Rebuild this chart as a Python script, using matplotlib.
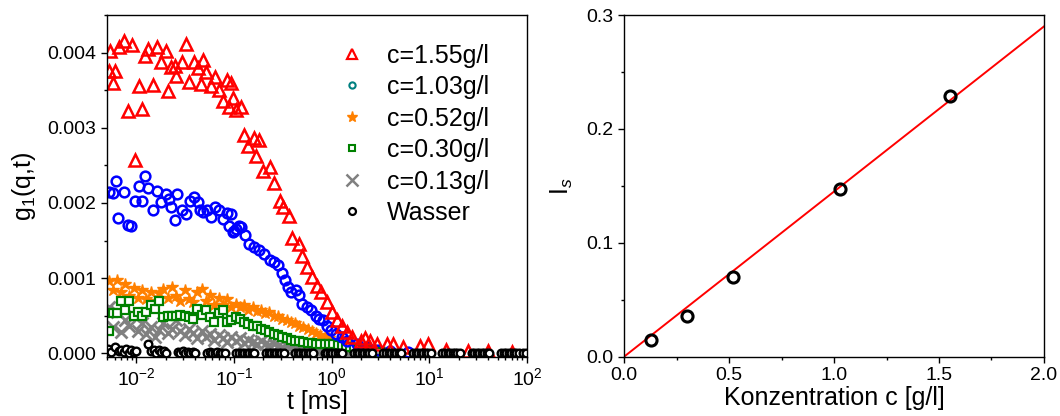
import matplotlib
matplotlib.use('Agg')
import matplotlib.pyplot as plt
from matplotlib.lines import Line2D
from matplotlib.ticker import MultipleLocator, LogLocator, FormatStrFormatter

plt.rcParams.update({
    'font.family': ['Liberation Sans', 'DejaVu Sans'],
    'mathtext.fontset': 'custom',
    'mathtext.rm': 'Liberation Sans',
    'mathtext.it': 'Liberation Sans:italic',
    'font.size': 14,
    'axes.linewidth': 1.0,
})

# ── Data: g1(q,t) (values in units of 1e-3) ──────────────────────────────────
red_t = [0.0052, 0.0054, 0.0058, 0.0061, 0.0067, 0.0074, 0.0082, 0.0091, 0.0098, 0.0107,
         0.0114, 0.0124, 0.0132, 0.0148, 0.0163, 0.0180, 0.0199, 0.0211, 0.0228, 0.0246,
         0.0256, 0.0295, 0.0324, 0.0350, 0.0385, 0.0426, 0.0461, 0.0486, 0.0518, 0.0582,
         0.0644, 0.0708, 0.0767, 0.0842, 0.0882, 0.0931, 0.0969, 0.105, 0.118, 0.127,
         0.140, 0.159, 0.168, 0.181, 0.196, 0.235, 0.258, 0.297, 0.314, 0.367,
         0.397, 0.464, 0.502, 0.565, 0.636, 0.715, 0.773, 0.904, 1.02, 1.14,
         1.29, 1.45, 1.62, 1.98, 2.22, 2.50, 2.93, 3.70, 4.29, 5.43,
         8.09, 9.77, 15.0, 25.0, 40.0, 70.0]
red_g = [3.76, 4.02, 3.60, 3.75, 4.07, 4.16, 3.22, 4.10, 2.57, 3.55,
         3.25, 3.96, 4.05, 3.57, 4.07, 3.88, 4.02, 3.49, 3.81, 3.82,
         3.69, 3.88, 4.12, 3.61, 3.88, 3.80, 3.58, 3.90, 3.74, 3.55,
         3.68, 3.50, 3.36, 3.63, 3.27, 3.60, 3.40, 3.24, 3.28, 2.90,
         2.76, 2.86, 2.63, 2.84, 2.43, 2.48, 2.27, 2.03, 1.94, 1.83,
         1.54, 1.46, 1.30, 1.15, 1.01, 0.90, 0.81, 0.68, 0.55, 0.44,
         0.37, 0.28, 0.22, 0.17, 0.20, 0.17, 0.13, 0.13, 0.12, 0.09,
         0.10, 0.12, 0.04, 0.03, 0.03, 0.02]

blue_t = [0.0053, 0.0057, 0.0062, 0.0065, 0.0074, 0.0082, 0.0089, 0.0096, 0.0106, 0.0115,
          0.0124, 0.0132, 0.0148, 0.0163, 0.0180, 0.0199, 0.0215, 0.0228, 0.0246, 0.0260,
          0.0295, 0.0324, 0.0355, 0.0393, 0.0426, 0.0450, 0.0486, 0.0527, 0.0582, 0.0644,
          0.0708, 0.0767, 0.0842, 0.0895, 0.0931, 0.0969, 0.101, 0.106, 0.113, 0.118,
          0.130, 0.143, 0.161, 0.181, 0.204, 0.235, 0.254, 0.284, 0.307, 0.331,
          0.358, 0.387, 0.428, 0.464, 0.501, 0.555, 0.619, 0.685, 0.740, 0.820,
          0.901, 0.990, 1.12, 1.28, 1.44, 1.80, 2.30, 3.00, 4.00, 6.00]
blue_g = [2.14, 2.13, 2.29, 1.80, 2.14, 1.71, 1.69, 2.03, 2.23, 2.03,
          2.36, 2.20, 1.91, 2.16, 2.01, 2.12, 2.05, 1.94, 1.78, 2.12,
          1.90, 1.85, 2.03, 2.08, 2.01, 1.91, 1.88, 1.91, 1.81, 1.95,
          1.90, 1.79, 1.86, 1.69, 1.85, 1.61, 1.63, 1.66, 1.70, 1.68,
          1.57, 1.46, 1.42, 1.37, 1.32, 1.24, 1.21, 1.17, 1.07, 0.97,
          0.88, 0.81, 0.84, 0.78, 0.66, 0.61, 0.58, 0.50, 0.46, 0.44,
          0.36, 0.31, 0.26, 0.22, 0.17, 0.12, 0.08, 0.05, 0.03, 0.02]

# common lag times for the three low concentrations
t_low = [0.0052, 0.0057, 0.0063, 0.0070, 0.0077, 0.0085, 0.0094, 0.0104, 0.0115, 0.0127,
         0.0140, 0.0155, 0.0171, 0.0189, 0.0209, 0.0231, 0.0255, 0.0282, 0.0312, 0.0345,
         0.0381, 0.0421, 0.0465, 0.0514, 0.0568, 0.0628, 0.0694, 0.0767, 0.0848, 0.0937,
         0.104, 0.115, 0.127, 0.140, 0.155, 0.171, 0.189, 0.209, 0.231, 0.255,
         0.282, 0.312, 0.345, 0.381, 0.421, 0.465, 0.514, 0.568, 0.628, 0.694,
         0.767, 0.848, 0.937, 1.04, 1.15, 1.27, 1.40, 1.55, 1.71, 1.89,
         2.09, 2.31, 2.55, 2.82, 3.12]
orange_g = [0.96, 0.84, 0.97, 0.82, 0.92, 0.76, 0.87, 0.74, 0.84, 0.72,
            0.82, 0.70, 0.80, 0.86, 0.74, 0.88, 0.76, 0.70, 0.84, 0.72,
            0.68, 0.82, 0.86, 0.70, 0.78, 0.64, 0.74, 0.64, 0.72, 0.62,
            0.66, 0.62, 0.64, 0.58, 0.62, 0.56, 0.58, 0.53, 0.55, 0.50,
            0.49, 0.46, 0.45, 0.42, 0.40, 0.37, 0.35, 0.32, 0.30, 0.27,
            0.25, 0.22, 0.20, 0.18, 0.16, 0.14, 0.12, 0.11, 0.09, 0.08,
            0.07, 0.06, 0.05, 0.04, 0.03]
green_g = [0.30, 0.53, 0.53, 0.70, 0.57, 0.70, 0.50, 0.55, 0.50, 0.55,
           0.64, 0.59, 0.70, 0.48, 0.50, 0.50, 0.50, 0.51, 0.50, 0.48,
           0.46, 0.59, 0.51, 0.57, 0.48, 0.42, 0.53, 0.57, 0.42, 0.44,
           0.48, 0.46, 0.42, 0.39, 0.37, 0.37, 0.33, 0.31, 0.28, 0.26,
           0.24, 0.22, 0.20, 0.18, 0.17, 0.16, 0.15, 0.14, 0.14, 0.13,
           0.13, 0.13, 0.12, 0.12, 0.11, 0.10, 0.09, 0.08, 0.07, 0.06,
           0.05, 0.04, 0.03, 0.03, 0.02]
grey_g = [0.62, 0.35, 0.55, 0.28, 0.45, 0.36, 0.50, 0.30, 0.40, 0.26,
          0.35, 0.22, 0.31, 0.40, 0.27, 0.33, 0.45, 0.30, 0.24, 0.33,
          0.27, 0.20, 0.30, 0.22, 0.26, 0.18, 0.24, 0.20, 0.15, 0.22,
          0.17, 0.20, 0.14, 0.18, 0.15, 0.12, 0.16, 0.13, 0.11, 0.13,
          0.10, 0.09, 0.10, 0.08, 0.07, 0.08, 0.06, 0.06, 0.05, 0.05,
          0.04, 0.04, 0.03, 0.03, 0.03, 0.02, 0.02, 0.02, 0.02, 0.01,
          0.01, 0.01, 0.01, 0.01, 0.00]

# water: full correlator range, channels come in groups of eight
water_t = [0.0051, 0.0055, 0.0060,
           0.0066, 0.0070, 0.0075, 0.0079, 0.0084, 0.0089, 0.0094, 0.0100,
           0.0133, 0.0142, 0.0150, 0.0160, 0.0169, 0.0180, 0.0190, 0.0202,
           0.0265, 0.0282, 0.0299, 0.0318, 0.0337, 0.0358, 0.0379, 0.0403,
           0.053, 0.0564, 0.0599, 0.0636, 0.0673, 0.0716, 0.0758, 0.0806,
           0.106, 0.113, 0.120, 0.127, 0.135, 0.143, 0.152, 0.161,
           0.212, 0.226, 0.240, 0.254, 0.269, 0.286, 0.303, 0.322,
           0.424, 0.452, 0.479, 0.509, 0.538, 0.572, 0.606, 0.644,
           0.849, 0.904, 0.959, 1.02, 1.08, 1.15, 1.21, 1.29,
           1.70, 1.81, 1.92, 2.04, 2.16, 2.30, 2.43, 2.58,
           3.39, 3.61, 3.83, 4.07, 4.31, 4.58, 4.85, 5.15,
           6.79, 7.23, 7.67, 8.15, 8.62, 9.17, 9.71, 10.3,
           13.6, 14.5, 15.4, 16.3, 17.3, 18.4, 19.4, 20.7,
           27.2, 29.0, 30.7, 32.6, 34.5, 36.7, 38.9, 41.3,
           54.3, 57.8, 61.4, 65.2, 69.0, 73.3, 77.6, 82.5,
           92.0, 98.0]
water_g = [0.06, 0.02, 0.08,
           0.03, 0.05, 0.02, 0.06, 0.01, 0.04, 0.02, 0.03,
           0.12, 0.03, 0.05, 0.01, 0.04, 0.02, 0.03, 0.01,
           0.02, 0.01, 0.03, 0.00, 0.02, 0.01, 0.02, 0.00,
           0.01, 0.02, 0.00, 0.01, 0.02, 0.00, 0.01, 0.00,
           0.01, 0.00, 0.01, 0.00, 0.01, 0.00, 0.00, 0.01,
           0.00, 0.01, 0.00, 0.00, 0.01, 0.00, 0.00, 0.00,
           0.01, 0.00, 0.00, 0.01, 0.00, 0.00, 0.00, 0.00,
           0.00, 0.00, 0.01, 0.00, 0.00, 0.00, 0.00, 0.00,
           0.00, 0.00, 0.00, 0.00, 0.01, 0.00, 0.00, 0.00,
           0.00, 0.00, 0.00, 0.00, 0.00, 0.00, 0.00, 0.00,
           0.00, 0.00, 0.00, 0.00, 0.00, 0.00, 0.00, 0.00,
           0.00, 0.00, 0.00, 0.00, 0.00, 0.00, 0.00, 0.00,
           0.00, 0.00, 0.00, 0.00, 0.00, 0.00, 0.00, 0.00,
           0.00, 0.00, 0.00, 0.00, 0.00, 0.00, 0.00, 0.00,
           0.00, 0.00]

legend_labels = ['c=1.55g/l', 'c=1.03g/l', 'c=0.52g/l', 'c=0.30g/l', 'c=0.13g/l', 'Wasser']

# ── Data: scattered intensity vs concentration ──────────────────────────────
conc = [0.13, 0.30, 0.52, 1.03, 1.55]
i_s = [0.015, 0.036, 0.070, 0.147, 0.229]
fit_c = [0.0, 2.0]
fit_i = [0.0, 0.29]

S = 1e-3
def sc(v):
    return [x * S for x in v]

fig = plt.figure(figsize=(10.6, 4.16), dpi=100)
ax1 = fig.add_axes([0.1009, 0.1425, 0.3962, 0.8214])
ax2 = fig.add_axes([0.5887, 0.1425, 0.3962, 0.8214])

# left panel
ax1.plot(t_low, sc(orange_g), ls='none', marker='*', ms=9, color='#ff8000', mec='#ff8000')
ax1.plot(t_low, sc(grey_g), ls='none', marker='x', ms=9, mew=2.0, color='#808080')
ax1.plot(t_low, sc(green_g), ls='none', marker='s', ms=6, mew=1.6, mfc='white', color='#008000')
ax1.plot(blue_t, sc(blue_g), ls='none', marker='o', ms=7, mew=1.8, mfc='none', color='#0000ff')
ax1.plot(red_t, sc(red_g), ls='none', marker='^', ms=8.5, mew=1.8, mfc='none', color='#ff0000')
ax1.plot(water_t, sc(water_g), ls='none', marker='o', ms=5.5, mew=1.7, mfc='white', color='black')

ax1.set_xscale('log')
ax1.set_xlim(0.005, 100)
ax1.set_ylim(-0.000045, 0.0045)
ax1.yaxis.set_major_locator(MultipleLocator(0.001))
ax1.yaxis.set_minor_locator(MultipleLocator(0.0005))
ax1.yaxis.set_major_formatter(FormatStrFormatter('%.3f'))
ax1.xaxis.set_minor_locator(LogLocator(base=10, subs=range(2, 10), numticks=20))
ax1.set_xlabel('t [ms]', fontsize=18, labelpad=1)
ax1.set_ylabel('g$_{1}$(q,t)', fontsize=18, labelpad=7)

handles = [
    Line2D([], [], ls='none', marker='^', ms=7, mew=1.6, mfc='none', color='#ff0000'),
    Line2D([], [], ls='none', marker='o', ms=4.5, mew=1.5, mfc='none', color='#008080'),
    Line2D([], [], ls='none', marker='*', ms=8, color='#ff8000'),
    Line2D([], [], ls='none', marker='s', ms=4.5, mew=1.5, mfc='none', color='#008000'),
    Line2D([], [], ls='none', marker='x', ms=8, mew=1.8, color='#808080'),
    Line2D([], [], ls='none', marker='o', ms=5, mew=1.6, mfc='none', color='black'),
]
ax1.legend(handles, legend_labels, loc='upper left', bbox_to_anchor=(0.554, 0.916),
           frameon=False, fontsize=18, labelspacing=0.3, handlelength=1.0,
           handletextpad=0.9, borderpad=0, borderaxespad=0, numpoints=1)

# right panel
ax2.plot(fit_c, fit_i, color='#ff0000', lw=1.4)
ax2.plot(conc, i_s, ls='none', marker='o', ms=8, mew=2.2, mfc='none', color='black')
ax2.set_xlim(0, 2.0)
ax2.set_ylim(0, 0.3)
ax2.xaxis.set_major_locator(MultipleLocator(0.5))
ax2.xaxis.set_minor_locator(MultipleLocator(0.25))
ax2.yaxis.set_major_locator(MultipleLocator(0.1))
ax2.yaxis.set_minor_locator(MultipleLocator(0.05))
ax2.xaxis.set_major_formatter(FormatStrFormatter('%.1f'))
ax2.yaxis.set_major_formatter(FormatStrFormatter('%.1f'))
ax2.set_xlabel('Konzentration c [g/l]', fontsize=18, labelpad=1)
ax2.set_ylabel('I$_{s}$', fontsize=18, labelpad=8)

for ax in (ax1, ax2):
    ax.tick_params(which='major', direction='out', length=4.5, width=1.0, labelsize=14, pad=3)
    ax.tick_params(which='minor', direction='out', length=2.5, width=1.0)
    ax.tick_params(top=False, right=False, which='both')

fig.savefig('out.png', dpi=100)
